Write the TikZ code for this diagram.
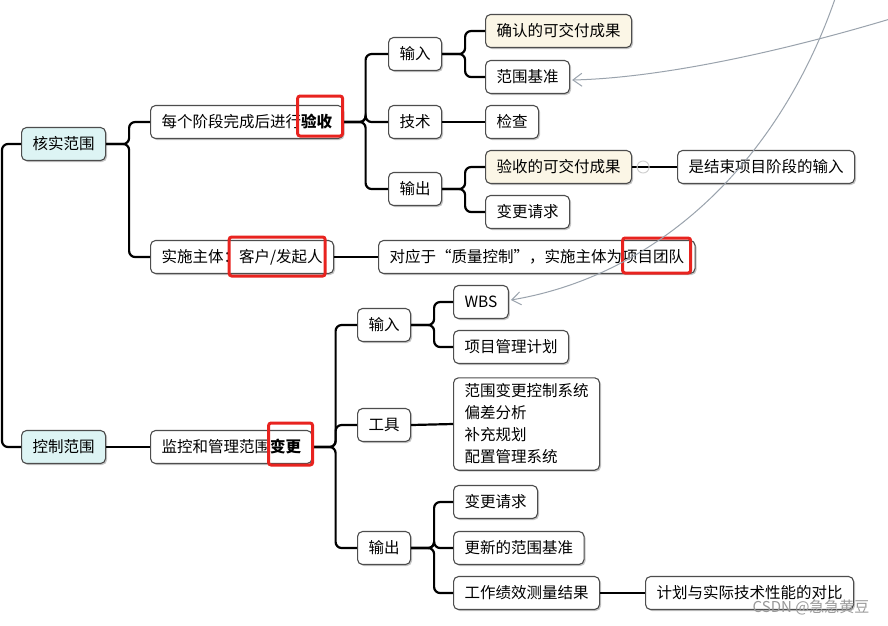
\documentclass[tikz,border=0pt]{standalone}
\usepackage{fontspec}
\setmainfont{Noto Sans CJK SC}
\usetikzlibrary{positioning, arrows.meta, shadows, calc}
\definecolor{boxline}{HTML}{4D4D4D}
\definecolor{tealfill}{HTML}{DDF4F4}
\definecolor{creamfill}{HTML}{FBF6E6}
\definecolor{hired}{HTML}{E8231F}
\definecolor{refgray}{HTML}{9AA3AD}

\begin{document}
\begin{tikzpicture}[x=1pt, y=-1pt, >={Straight Barb[length=9pt,width=13pt]},
  topic/.style={draw=boxline, line width=1.1pt, rounded corners=5pt, fill=white, anchor=west,
    minimum height=33pt, inner xsep=11pt, font=\fontsize{15.5}{20}\selectfont,
    drop shadow={shadow xshift=1.5pt, shadow yshift=-1.5pt, opacity=0.22, fill=black}},
  link/.style={line width=2.2pt, rounded corners=6pt},
  hilite/.style={draw=hired, line width=3pt, rounded corners=2.5pt},
  refline/.style={draw=refgray, line width=1pt}]
  \useasboundingbox (0,0) rectangle (888,625);
  \fill[white] (0,0) rectangle (888,625);

  % first branch
  \node[topic, fill=tealfill] (hs) at (21,144) {核实范围};
  \node[topic] (ys) at (150,122) {每个阶段完成后进行\textbf{验收}};
  \node[topic] (zt) at (150,257) {实施主体：客户/发起人};
  \node[topic] (dy) at (378,257) {对应于“质量控制”，实施主体为项目团队};
  \node[topic] (in1) at (388,54) {输入};
  \node[topic] (tech) at (388,122) {技术};
  \node[topic] (out1) at (388,189) {输出};
  \node[topic, fill=creamfill] (qr) at (485,31) {确认的可交付成果};
  \node[topic] (jz) at (485,77) {范围基准};
  \node[topic] (jc) at (485,122) {检查};
  \node[topic, fill=creamfill] (ysjf) at (485,167) {验收的可交付成果};
  \node[topic] (bg1) at (485,212) {变更请求};
  \node[topic] (js) at (677,167) {是结束项目阶段的输入};

  % second branch
  \node[topic, fill=tealfill] (kz) at (21,447) {控制范围};
  \node[topic] (jk) at (150,447) {监控和管理范围\textbf{变更}};
  \node[topic] (in2) at (357,325) {输入};
  \node[topic] (tool) at (357,425) {工具};
  \node[topic] (out2) at (357,548) {输出};
  \node[topic] (wbs) at (453,302) {WBS};
  \node[topic] (plan) at (453,347) {项目管理计划};
  \node[topic, align=left, inner ysep=6pt, font=\fontsize{15.5}{22}\selectfont] (tools) at (453,424)
    {范围变更控制系统\\偏差分析\\补充规划\\配置管理系统};
  \node[topic] (bg2) at (453,502) {变更请求};
  \node[topic] (gx) at (453,548) {更新的范围基准};
  \node[topic] (jx) at (453,593) {工作绩效测量结果};
  \node[topic] (db) at (645,593) {计划与实际技术性能的对比};

  % connectors
  \coordinate (root) at (2,300);
  \draw[link] (hs.west) -| (root) |- (kz.west);
  \foreach \c in {ys, zt} \draw[link] (hs.east) -- ++(23,0) |- (\c.west);
  \draw[link] (zt.east) -- (dy.west);
  \foreach \c in {in1, tech, out1} \draw[link] (ys.east) -- ++(22,0) |- (\c.west);
  \foreach \c in {qr, jz} \draw[link] (in1.east) -- ++(23,0) |- (\c.west);
  \draw[link] (tech.east) -- (jc.west);
  \foreach \c in {ysjf, bg1} \draw[link] (out1.east) -- ++(23,0) |- (\c.west);
  \draw[link] (ysjf.east) -- (js.west);
  \draw[link] (kz.east) -- (jk.west);
  \foreach \c in {in2, tool, out2} \draw[link] (jk.east) -- ++(23,0) |- (\c.west);
  \foreach \c in {wbs, plan} \draw[link] (in2.east) -- ++(23,0) |- (\c.west);
  \draw[link] (tool.east) -- (tools.west);
  \foreach \c in {bg2, gx, jx} \draw[link] (out2.east) -- ++(23,0) |- (\c.west);
  \draw[link] (jx.east) -- (db.west);
  \coordinate (fold) at ($(ysjf.east)+(11,0)$);
  \draw[black!18, line width=1pt] (fold) circle (6pt);

  % red highlights
  \draw[hilite] ($(ys.east)+(-46,-26)$) rectangle ($(ys.east)+(-1,14)$);
  \draw[hilite] ($(zt.east)+(-105,-20)$) rectangle ($(zt.east)+(-9,19)$);
  \draw[hilite] ($(dy.east)+(-73,-19)$) rectangle ($(dy.east)+(-5,16)$);
  \draw[hilite] ($(jk.east)+(-44,-24)$) rectangle ($(jk.east)+(0,18)$);

  % gray reference arrows
  \coordinate (src1) at (890,19);
  \coordinate (src2) at (836,-4);
  \draw[refline, ->] (src1) .. controls (780,52) and (660,78) .. ($(jz.east)+(2,3)$);
  \draw[refline, ->] (src2) .. controls (780,160) and (660,275) .. ($(wbs.east)+(2,-2)$);

  \node[font=\fontsize{15}{18}\selectfont, text=black!40, anchor=east] (wm) at (873,607) {CSDN @急急黄豆};
\end{tikzpicture}
\end{document}
